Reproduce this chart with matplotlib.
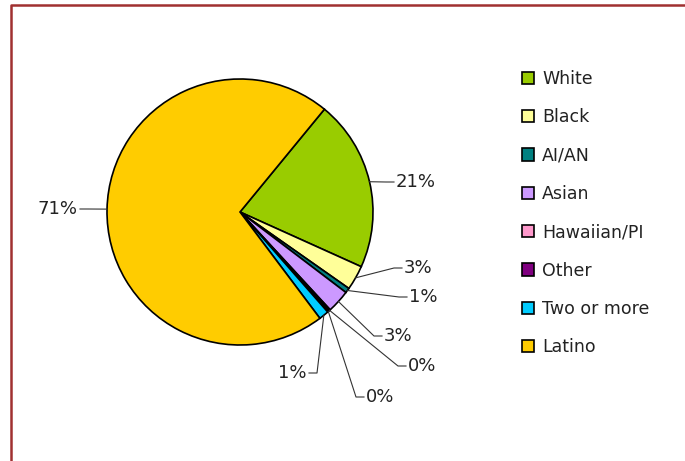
import matplotlib
matplotlib.use('Agg')
import matplotlib.pyplot as plt
import numpy as np

# data
groups = ['White', 'Black', 'AI/AN', 'Asian', 'Hawaiian/PI', 'Other', 'Two or more', 'Latino']
shares = [20.8, 3.0, 0.6, 2.8, 0.2, 0.2, 1.2, 71.2]
colors = ['#99CC00', '#FFFF99', '#008080', '#CC99FF', '#FF99CC', '#800080', '#00CCFF', '#FFCC00']

W, H = 685, 461
plt.rcParams['font.family'] = ['DejaVu Sans']
fig = plt.figure(figsize=(W/100, H/100), dpi=100)
ax = fig.add_axes([0, 0, 1, 1])

cx, cy, r = 240, H-212, 133
wedges, _ = ax.pie(shares, colors=colors, startangle=50.6, counterclock=False,
                   center=(cx, cy), radius=r, frame=False,
                   wedgeprops=dict(edgecolor='black', linewidth=1.2))
ax.set_xlim(0, W)
ax.set_ylim(0, H)
ax.set_aspect('auto')
ax.axis('off')

# label layout (pixel positions of text anchor, alignment)
lab_pos = [(396, 182, 'left'), (404, 268, 'left'), (409, 297, 'left'), (384, 336, 'left'),
           (408, 366, 'left'), (366, 397, 'left'), (307, 373, 'right'), (78, 209, 'right')]

txt_col = '#222222'
for w, v, (tx, ty, ha) in zip(wedges, shares, lab_pos):
    mid = np.deg2rad((w.theta1 + w.theta2) / 2)
    ex, ey = cx + r*np.cos(mid), cy + r*np.sin(mid)
    ty = H - ty
    if ha == 'left':
        elx, stub = tx - 10, tx - 2
    else:
        elx, stub = tx + 10, tx + 2
    ax.plot([ex, elx, stub], [ey, ty, ty], color='#333333', lw=0.8)
    ax.text(tx, ty, '%.0f%%' % v, ha=ha, va='center', fontsize=13, color=txt_col)

leg = ax.legend(wedges, groups, loc='upper left', bbox_to_anchor=(515/W, 1 - 63/H),
                frameon=False, fontsize=12.5, handlelength=0.72, handleheight=0.72,
                handletextpad=0.45, labelspacing=1.17, borderaxespad=0)
for t in leg.get_texts():
    t.set_color(txt_col)

# outer border (dark red)
ax.plot([11, 11, W+5], [-5, H-5, H-5], color='#A03030', lw=1.8, clip_on=False)

fig.savefig('out.png', dpi=100)
